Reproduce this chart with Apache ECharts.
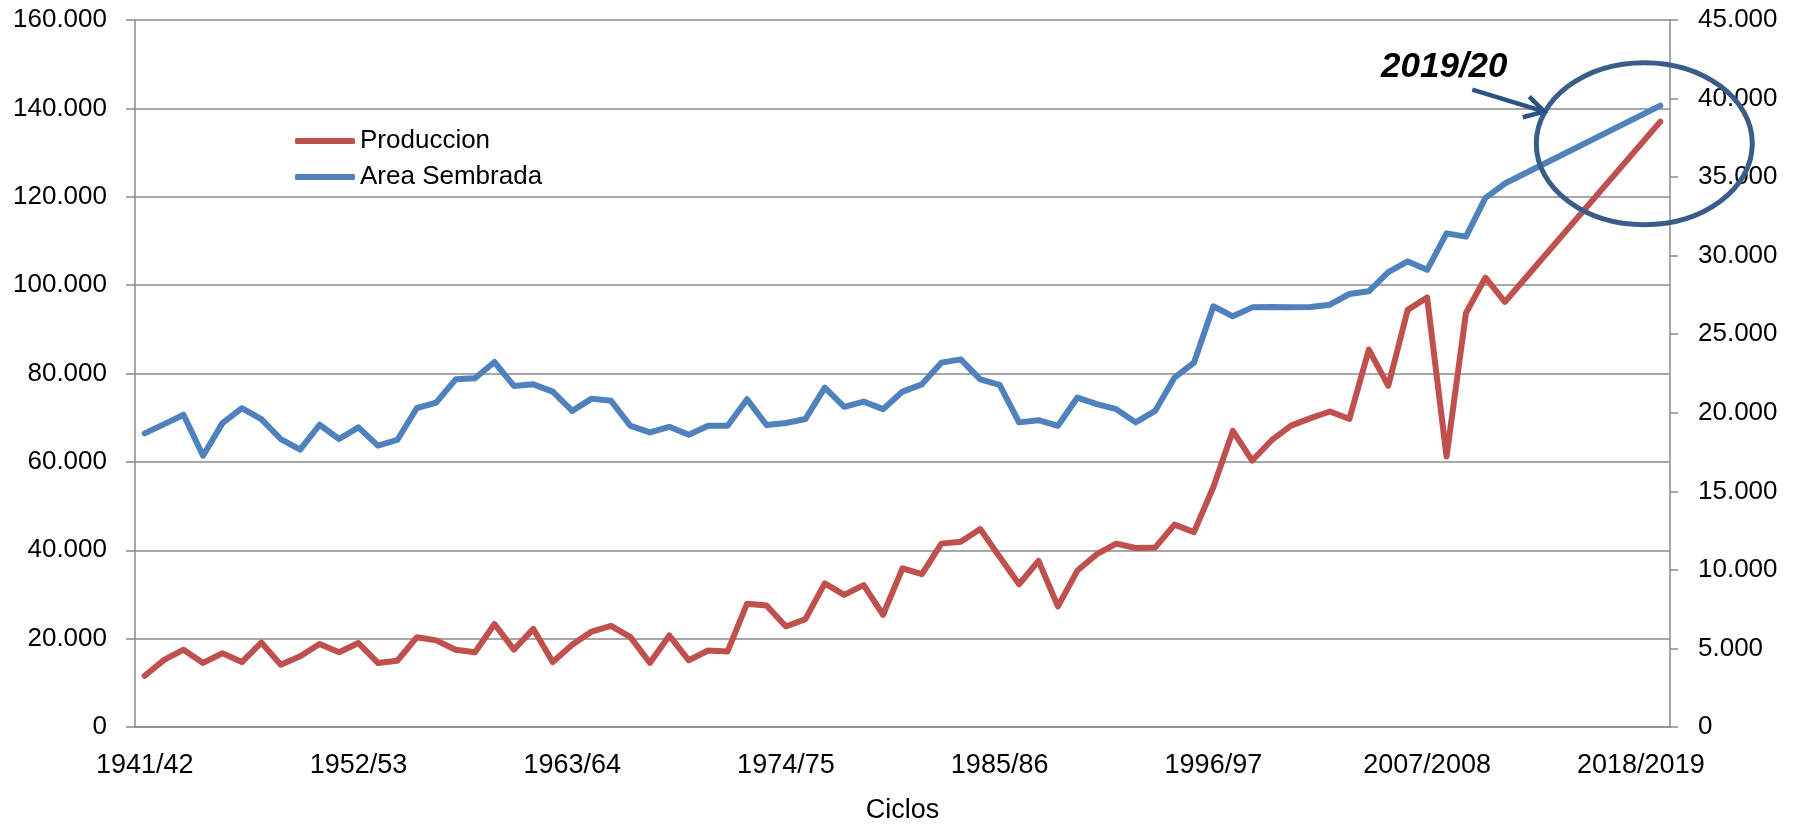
<!DOCTYPE html>
<html>
<head>
<meta charset="utf-8">
<script src="https://cdn.jsdelivr.net/npm/echarts@6/dist/echarts.min.js"></script>
<style>
  html, body { margin: 0; padding: 0; background: #fff; }
  #chart-wrapper { width: 1803px; height: 829px; }
</style>
</head>
<body>
<div id="chart-wrapper"></div>
<script>
'use strict'

var ciclos = ['1941/42','1942/43','1943/44','1944/45','1945/46','1946/47','1947/48','1948/49','1949/50','1950/51',
    '1951/52','1952/53','1953/54','1954/55','1955/56','1956/57','1957/58','1958/59','1959/60','1960/61',
    '1961/62','1962/63','1963/64','1964/65','1965/66','1966/67','1967/68','1968/69','1969/70','1970/71',
    '1971/72','1972/73','1973/74','1974/75','1975/76','1976/77','1977/78','1978/79','1979/80','1980/81',
    '1981/82','1982/83','1983/84','1984/85','1985/86','1986/87','1987/88','1988/89','1989/90','1990/91',
    '1991/92','1992/93','1993/94','1994/95','1995/96','1996/97','1997/98','1998/99','1999/2000','2000/2001',
    '2001/2002','2002/2003','2003/2004','2004/2005','2005/2006','2006/2007','2007/2008','2008/2009','2009/2010','2010/2011',
    '2011/2012','2012/2013','2013/2014','2014/2015','2015/2016','2016/2017','2017/2018','2018/2019','2019/2020'];

// left axis
var produccion = [11600, 15200, 17500, 14500, 16700, 14700, 19100, 14100, 16000, 18800,
    16900, 19000, 14500, 15000, 20300, 19600, 17500, 16900, 23300, 17500,
    22200, 14700, 18600, 21600, 22900, 20350, 14500, 20700, 15100, 17300,
    17100, 27900, 27500, 22750, 24400, 32500, 29900, 32100, 25400, 35900,
    34600, 41500, 41900, 44800, 38500, 32300, 37600, 27300, 35400, 39100,
    41500, 40500, 40600, 45800, 44100, 54300, 67000, 60300, 64900, 68200,
    69900, 71400, 69700, 85400, 77200, 94400, 97200, 61200, 93700, 101700,
    96200, null, null, null, null, null, null, null, 137000];

// right axis
var areaSembrada = [18690, 19280, 19870, 17270, 19340, 20290, 19600, 18330, 17650, 19240,
    18330, 19070, 17910, 18270, 20290, 20650, 22130, 22200, 23230, 21710,
    21810, 21350, 20120, 20900, 20760, 19170, 18750, 19110, 18600, 19170,
    19170, 20860, 19220, 19350, 19600, 21600, 20380, 20710, 20230, 21350,
    21810, 23190, 23400, 22130, 21770, 19390, 19530, 19170, 20970, 20550,
    20230, 19390, 20120, 22240, 23190, 26780, 26140, 26710, 26730, 26710,
    26730, 26880, 27560, 27730, 28950, 29630, 29100, 31420, 31210, 33680,
    34590, null, null, null, null, null, null, null, 39550];

var nota = '2019/20';

function miles(v) {
    return String(v).replace(/\B(?=(\d{3})+(?!\d))/g, '.');
}

var fontFam = '"Liberation Sans", Arial, sans-serif';
var gris = '#8a8a8a';

var myChart = echarts.init(document.getElementById('chart-wrapper'));
var option = {
    animation: false,
    textStyle: { fontFamily: fontFam },
    grid: { left: 135, right: 133, top: 20, bottom: 98 },
    legend: {
        orient: 'vertical',
        left: 290,
        top: 123,
        icon: 'roundRect',
        itemWidth: 60,
        itemHeight: 6,
        itemGap: 10,
        textStyle: { fontSize: 26, color: '#000', fontFamily: fontFam },
        data: ['Produccion', 'Area Sembrada']
    },
    xAxis: {
        type: 'category',
        data: ciclos,
        boundaryGap: true,
        name: 'Ciclos',
        nameLocation: 'middle',
        nameGap: 70,
        nameTextStyle: { fontSize: 27, color: '#000', fontFamily: fontFam },
        axisLine: { lineStyle: { color: gris, width: 1.5 } },
        axisTick: { interval: 0, length: 9, lineStyle: { color: gris, width: 1.5 } },
        axisLabel: { interval: 10, fontSize: 27, color: '#000', margin: 25, fontFamily: fontFam }
    },
    yAxis: [
        {
            type: 'value',
            min: 0,
            max: 160000,
            interval: 20000,
            axisLine: { show: true, lineStyle: { color: gris, width: 1.5 } },
            axisTick: { show: true, length: 9, lineStyle: { color: gris, width: 1.5 } },
            axisLabel: { fontSize: 26, color: '#000', margin: 28, formatter: miles, fontFamily: fontFam },
            splitLine: { lineStyle: { color: gris, width: 1.5 } }
        },
        {
            type: 'value',
            min: 0,
            max: 45000,
            interval: 5000,
            position: 'right',
            axisLine: { show: true, lineStyle: { color: gris, width: 1.5 } },
            axisTick: { show: true, length: 8, lineStyle: { color: gris, width: 1.5 } },
            axisLabel: { fontSize: 26, color: '#000', margin: 28, formatter: miles, fontFamily: fontFam },
            splitLine: { show: false }
        }
    ],
    series: [
        {
            name: 'Produccion',
            type: 'line',
            yAxisIndex: 0,
            symbol: 'none',
            connectNulls: true,
            itemStyle: { color: '#C0504D' },
            lineStyle: { color: '#C0504D', width: 6, join: 'round', cap: 'round' },
            data: produccion
        },
        {
            name: 'Area Sembrada',
            type: 'line',
            yAxisIndex: 1,
            symbol: 'none',
            connectNulls: true,
            itemStyle: { color: '#4F81BD' },
            lineStyle: { color: '#4F81BD', width: 6, join: 'round', cap: 'round' },
            data: areaSembrada
        }
    ]
};
myChart.setOption(option);

// annotation anchored on the last Area Sembrada point
var last = ciclos.length - 1;
var p = myChart.convertToPixel({ xAxisIndex: 0, yAxisIndex: 1 }, [ciclos[last], areaSembrada[last]]);
var azul = '#385D8A';
myChart.setOption({
    graphic: [
        {
            type: 'ellipse',
            shape: { cx: p[0] - 16, cy: p[1] + 38, rx: 108, ry: 81 },
            style: { fill: 'none', stroke: azul, lineWidth: 5 },
            z: 100
        },
        {
            type: 'line',
            shape: { x1: p[0] - 188, y1: p[1] - 16, x2: p[0] - 116, y2: p[1] + 6 },
            style: { stroke: '#2A5283', lineWidth: 4.5 },
            z: 100
        },
        {
            type: 'polyline',
            shape: { points: [[p[0] - 131, p[1] - 9], [p[0] - 116, p[1] + 6], [p[0] - 137.5, p[1] + 11.6]] },
            style: { stroke: '#2A5283', lineWidth: 4.5, fill: 'none', lineJoin: 'miter' },
            z: 100
        },
        {
            type: 'text',
            x: p[0] - 216,
            y: p[1] - 38.5,
            style: {
                text: nota,
                fontSize: 35,
                fontWeight: 'bold',
                fontStyle: 'italic',
                fontFamily: fontFam,
                fill: '#000',
                align: 'center',
                verticalAlign: 'middle'
            },
            z: 100
        }
    ]
});
</script>
</body>
</html>
